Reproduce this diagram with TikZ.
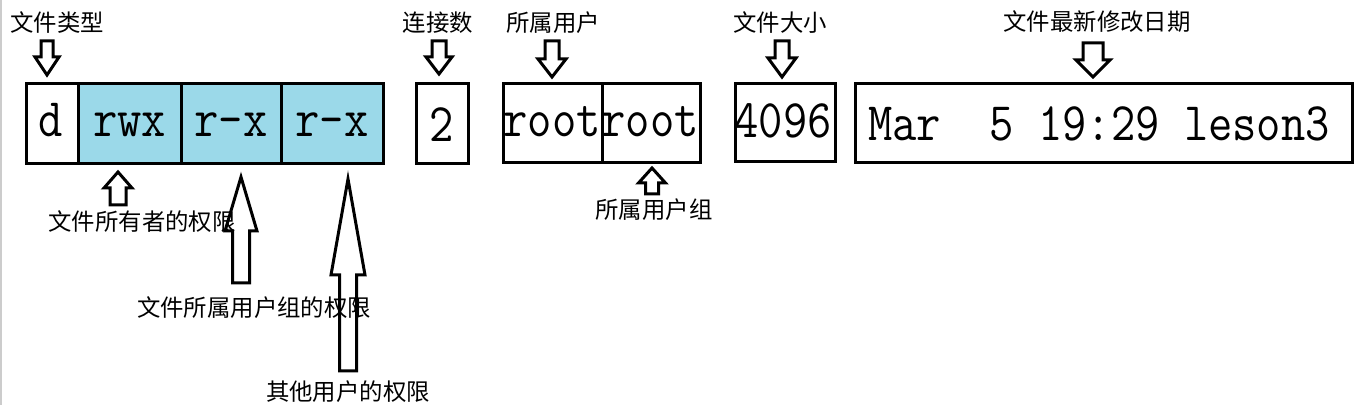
\documentclass[tikz,border=0pt]{standalone}
\usepackage{fontspec}
\newfontfamily\cjk{Noto Sans CJK SC}
\definecolor{cellblue}{RGB}{155,217,233}
\newcommand{\blkarrow}[6]{% cx, tail y, head-base y, tip y, shaft half, head half
  \draw[barrow] ({#1-#5},#2) -- ({#1+#5},#2) -- ({#1+#5},#3) -- ({#1+#6},#3) -- (#1,#4) -- ({#1-#6},#3) -- ({#1-#5},#3) -- cycle;}
\newcommand{\tallt}[1]{\scalebox{1}[1.15]{#1}}
\begin{document}
\begin{tikzpicture}[x=0.5pt,y=-0.5pt,
  box/.style={draw,line width=1.5pt},
  celltext/.style={font=\ttfamily\fontsize{23.6}{26}\selectfont, anchor=base, inner sep=0},
  lab/.style={font=\cjk\fontsize{11.7}{14}\selectfont, inner sep=0},
  barrow/.style={draw, line width=1.5pt, line join=miter}]
\useasboundingbox (0,0) rectangle (1364,405);
\draw[black!20, line width=1pt] (1,0) -- (1,405);
% permission cells
\fill[cellblue] (78,84) rectangle (383,164);
\draw[box] (26,84) rectangle (383,164);
\draw[box] (78,84) -- (78,164) (181,84) -- (181,164) (281,84) -- (281,164);
\node[celltext] (d) at (51,137) {\tallt{d}};
\node[celltext] (own) at (129.5,137) {\tallt{rwx}};
\node[celltext] (grp) at (231,137) {\tallt{r-x}};
\node[celltext] (oth) at (332,137) {\tallt{r-x}};
% link count
\draw[box] (416,84) rectangle (468,164);
\node[celltext] (lnk) at (442,142) {\tallt{2}};
% user / group
\draw[box] (503,84) rectangle (700,163);
\draw[box] (602,84) -- (602,163);
\node[celltext] (usr) at (552,137) {\tallt{root}};
\node[celltext] (ugrp) at (650,137) {\tallt{root}};
% size
\draw[box] (735,84) rectangle (835,162);
\node[celltext] (size) at (783,138) {\tallt{4096}};
% date
\draw[box] (855,84) rectangle (1352,163);
\node[celltext] (date) at (1099,141) {\tallt{Mar\ \ 5 19:29 leson3}};
% labels
\node[lab] (l1) at (57,23) {文件类型};
\node[lab] (l2) at (438,23) {连接数};
\node[lab] (l3) at (553,23) {所属用户};
\node[lab] (l4) at (780,23) {文件大小};
\node[lab] (l5) at (1097,22) {文件最新修改日期};
\node[lab] (l6) at (142,222) {文件所有者的权限};
\node[lab] (l7) at (254,308) {文件所属用户组的权限};
\node[lab] (l8) at (348,392) {其他用户的权限};
\node[lab] (l9) at (654,210) {所属用户组};
% down arrows
\blkarrow{47}{41}{57}{75}{6}{12}
\blkarrow{439}{41}{57}{74}{7}{13}
\blkarrow{552}{41}{59}{77}{7}{14}
\blkarrow{782}{41}{58}{77}{7}{14}
\blkarrow{1093}{43}{60}{77}{10}{17}
% up arrows
\blkarrow{118}{205}{188}{172}{8}{14}
\blkarrow{241}{283}{231}{177}{8.5}{16}
\blkarrow{348}{371}{275}{179}{8.5}{17}
\blkarrow{652}{194}{183}{168}{6.5}{13.5}
\end{tikzpicture}
\end{document}
